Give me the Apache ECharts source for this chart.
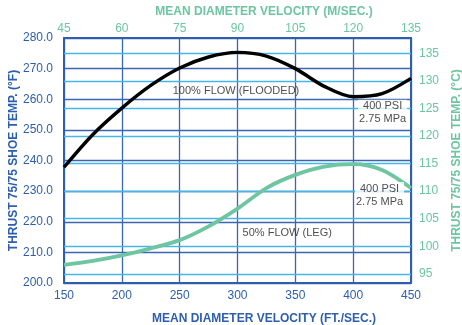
<!DOCTYPE html>
<html>
<head>
<meta charset="utf-8">
<script src="https://cdn.jsdelivr.net/npm/echarts@6/dist/echarts.min.js"></script>
<style>html,body{margin:0;padding:0;background:#fff}#c{width:462px;height:325px}</style>
</head>
<body>
<div id="c"></div>
<script>
// Data (x in ft/sec, y in °F)
const velFt = [150,175,200,225,250,275,300,325,350,375,400,425,450];
const flow100 = [237.8,248.5,257.1,264.5,270.2,273.8,275.3,274.1,270.0,264.2,260.8,261.8,266.8];
const flow50 = [205.9,207.2,209.0,211.3,214.0,218.5,224.3,231.0,235.3,238.0,238.8,236.9,231.0];
const celsiusTicks = [95,100,105,110,115,120,125,130,135];
const notes = [
  {text:'100% FLOW (FLOODED)', x:298.7, y:262.7, bg:false},
  {text:'400 PSI\n2.75 MPa', x:425.5, y:255.6, bg:true},
  {text:'400 PSI\n2.75 MPa', x:422.8, y:228.7, bg:true},
  {text:'50% FLOW (LEG)', x:343, y:216.5, bg:false}
];

const DARK = '#2d5fae', GRID = '#3a67b0', LIGHT = '#45b6e8', GREEN = '#6ec5a1';
const fC = f => (f - 32) / 1.8;
const tickFont = {fontFamily:'Liberation Sans, Arial, sans-serif', fontSize:12, letterSpacing:-0.7};
const titleFont = {fontFamily:'Liberation Sans, Arial, sans-serif', fontSize:12, fontWeight:'bold', letterSpacing:-0.9};

const chart = echarts.init(document.getElementById('c'), null, {renderer:'canvas'});
chart.setOption({
  animation:false,
  grid:{left:64, right:51, top:38, bottom:42, containLabel:false, outerBoundsMode:'none'},
  xAxis:[
    {type:'value', position:'bottom', min:150, max:450, interval:50,
     axisLine:{show:true, lineStyle:{color:DARK, width:2}}, axisTick:{show:false},
     axisLabel:Object.assign({color:DARK, margin:7}, tickFont),
     splitLine:{show:true, lineStyle:{color:GRID, width:1.3}},
     name:'MEAN DIAMETER VELOCITY (FT./SEC.)', nameLocation:'middle', nameGap:30, nameMoveOverlap:false,
     nameTextStyle:Object.assign({color:DARK, padding:[0,0,0,53]}, titleFont)},
    {type:'value', position:'top', min:45, max:135, interval:15,
     axisLine:{show:true, lineStyle:{color:DARK, width:2}}, axisTick:{show:false},
     axisLabel:Object.assign({color:GREEN, margin:3}, tickFont),
     splitLine:{show:false},
     name:'MEAN DIAMETER VELOCITY (M/SEC.)', nameLocation:'middle', nameGap:20, nameMoveOverlap:false,
     nameTextStyle:Object.assign({color:GREEN, padding:[0,0,0,53]}, titleFont)}
  ],
  yAxis:[
    {type:'value', position:'left', min:200, max:280, interval:10,
     axisLine:{show:true, lineStyle:{color:DARK, width:2}}, axisTick:{show:false},
     axisLabel:Object.assign({color:DARK, margin:11, formatter:v=>v.toFixed(1)}, tickFont),
     splitLine:{show:true, lineStyle:{color:GRID, width:1.3}},
     name:'THRUST 75/75 SHOE TEMP. (°F)', nameLocation:'middle', nameGap:44, nameMoveOverlap:false,
     nameTextStyle:Object.assign({color:DARK}, titleFont)},
    {type:'value', position:'right', min:fC(200), max:fC(280),
     axisLine:{show:true, lineStyle:{color:DARK, width:2}},
     axisTick:{show:false, customValues:celsiusTicks},
     axisLabel:Object.assign({color:GREEN, margin:8, customValues:celsiusTicks}, tickFont),
     splitLine:{show:false},
     name:'THRUST 75/75 SHOE TEMP. (°C)', nameLocation:'middle', nameGap:40, nameMoveOverlap:false,
     nameTextStyle:Object.assign({color:GREEN}, titleFont)}
  ],
  series:[
    {type:'line', xAxisIndex:0, yAxisIndex:1, data:[], silent:true,
     markLine:{silent:true, symbol:'none', label:{show:false},
       lineStyle:{color:LIGHT, width:1.3, type:'solid'},
       data:celsiusTicks.map(v=>({yAxis:v}))}},
    {type:'line', xAxisIndex:0, yAxisIndex:0, smooth:0.3, symbol:'none',
     lineStyle:{color:GREEN, width:3.8}, z:5,
     data:velFt.map((x,i)=>[x, flow50[i]])},
    {type:'line', xAxisIndex:0, yAxisIndex:0, smooth:0.3, symbol:'none',
     lineStyle:{color:'#000', width:3.4}, z:6,
     data:velFt.map((x,i)=>[x, flow100[i]])},
    {type:'scatter', xAxisIndex:0, yAxisIndex:0, symbolSize:0, z:10, silent:true,
     data:notes.map(n=>({value:[n.x,n.y], label:{show:true, position:'inside', formatter:n.text,
       color:'#222', fontFamily:'Liberation Sans, Arial, sans-serif', fontSize:11, letterSpacing:-0.6,
       lineHeight:13, align:'center',
       backgroundColor:n.bg?'#fff':'transparent', padding:n.bg?[0,1]:0}}))}
  ]
});
</script>
</body>
</html>
